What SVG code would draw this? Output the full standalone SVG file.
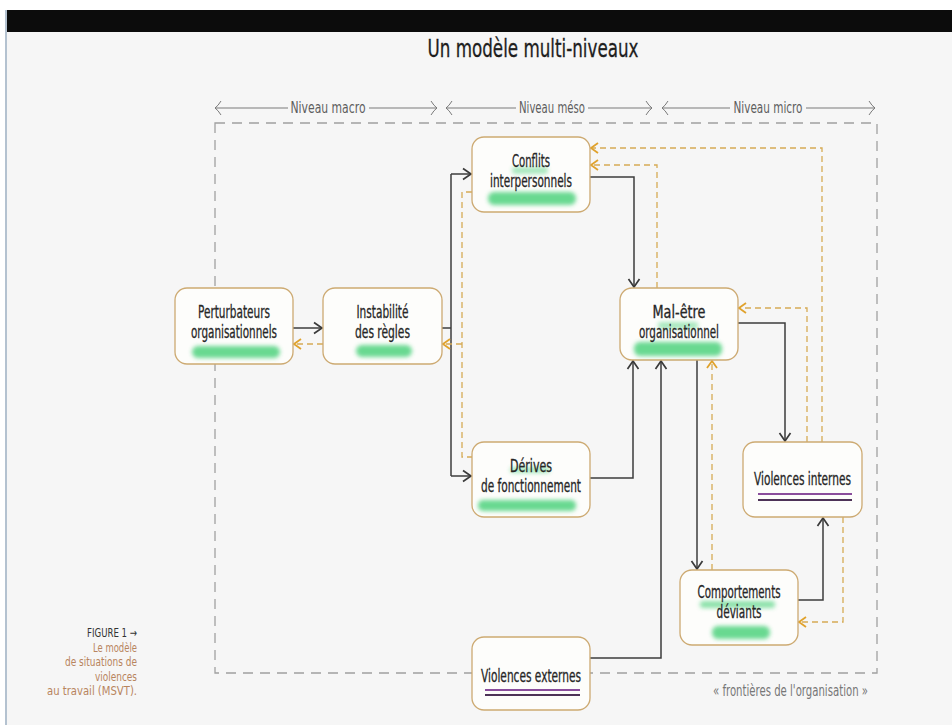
<svg xmlns="http://www.w3.org/2000/svg" width="952" height="725" viewBox="0 0 952 725">
<style>
.t{font-family:"DejaVu Sans Condensed","DejaVu Sans","Liberation Sans",sans-serif;font-stretch:condensed;font-size:17px;fill:#262626;stroke:#262626;stroke-width:0.3;text-anchor:middle}
.lv{font-family:"DejaVu Sans Condensed","DejaVu Sans","Liberation Sans",sans-serif;font-stretch:condensed;font-size:15px;fill:#5e5e5e;text-anchor:middle}
.cap{font-family:"DejaVu Sans Condensed","DejaVu Sans","Liberation Sans",sans-serif;font-stretch:condensed;font-size:12.5px;fill:#b8855e;text-anchor:end}
.box{fill:#fdfdfb;stroke:#cdaa72;stroke-width:1.3}
.sol{fill:none;stroke:#3c3c3c;stroke-width:1.5}
.dsh{fill:none;stroke:#d6ab55;stroke-width:1.3;stroke-dasharray:6 4}
.bnd{fill:none;stroke:#a0a0a0;stroke-width:1.3;stroke-dasharray:10 7}
.lvl{fill:none;stroke:#7a7a7a;stroke-width:1}
.hl{fill:#3fcf73;opacity:0.78;filter:url(#soft)}
.pu1{stroke:#8a4d9c;stroke-width:2}
.pu2{stroke:#4d3357;stroke-width:2}
</style>
<defs>
<filter id="soft" x="-20%" y="-100%" width="140%" height="300%"><feGaussianBlur stdDeviation="2"/></filter>
<marker id="ah" markerUnits="userSpaceOnUse" markerWidth="12" markerHeight="14" viewBox="0 0 12 14" refX="10" refY="7" orient="auto"><path d="M2,1.5 L10,7 L2,12.5" fill="none" stroke="#3a3a3a" stroke-width="1.7"/></marker>
<marker id="oh" markerUnits="userSpaceOnUse" markerWidth="12" markerHeight="14" viewBox="0 0 12 14" refX="10" refY="7" orient="auto"><path d="M3,2 L10,7 L3,12" fill="none" stroke="#e0a22c" stroke-width="1.8"/></marker>
<marker id="lh" markerUnits="userSpaceOnUse" markerWidth="10" markerHeight="16" viewBox="0 0 10 16" refX="9" refY="8" orient="auto"><path d="M3,1 Q6,6 9,8 Q6,10 3,15" fill="none" stroke="#7a7a7a" stroke-width="1"/></marker>
</defs>
<rect x="0" y="0" width="952" height="725" fill="#ffffff"/>
<rect x="6" y="32" width="946" height="693" fill="#f6f6f6"/>
<rect x="6" y="10" width="946" height="22" fill="#0c0c0c"/>
<line x1="6" y1="10" x2="6" y2="725" stroke="#b4c2d0" stroke-width="2"/>

<text x="533" y="57" class="t" style="font-size:25px;fill:#1e1e1e;stroke:#1e1e1e;stroke-width:0.3" textLength="211" lengthAdjust="spacingAndGlyphs">Un modèle multi-niveaux</text>

<g id="levels">
<path class="lvl" d="M288,108 H215" marker-end="url(#lh)"/>
<path class="lvl" d="M369,108 H437" marker-end="url(#lh)"/>
<text x="328" y="113" class="lv" textLength="75" lengthAdjust="spacingAndGlyphs">Niveau macro</text>
<path class="lvl" d="M516,108 H446" marker-end="url(#lh)"/>
<path class="lvl" d="M588,108 H652" marker-end="url(#lh)"/>
<text x="552" y="113" class="lv" textLength="66" lengthAdjust="spacingAndGlyphs">Niveau méso</text>
<path class="lvl" d="M730,108 H662" marker-end="url(#lh)"/>
<path class="lvl" d="M806,108 H875" marker-end="url(#lh)"/>
<text x="768" y="113" class="lv" textLength="69" lengthAdjust="spacingAndGlyphs">Niveau micro</text>
</g>

<rect id="boundary" class="bnd" x="215" y="123" width="662" height="550"/>

<g id="connectors">
<path class="sol" d="M293,328 H322" marker-end="url(#ah)"/>
<path class="sol" d="M442,328 H451"/>
<path class="sol" d="M451,174 V476"/>
<path class="sol" d="M451,174 H471" marker-end="url(#ah)"/>
<path class="sol" d="M451,476 H471" marker-end="url(#ah)"/>
<path class="sol" d="M590,177 H634 V287" marker-end="url(#ah)"/>
<path class="sol" d="M738,323 H785 V441" marker-end="url(#ah)"/>
<path class="sol" d="M697,360 V569" marker-end="url(#ah)"/>
<path class="sol" d="M590,478 H633 V361" marker-end="url(#ah)"/>
<path class="sol" d="M590,658 H661 V361" marker-end="url(#ah)"/>
<path class="sol" d="M798,600 H823 V518" marker-end="url(#ah)"/>

<path class="dsh" d="M323,344 H294" marker-end="url(#oh)"/>
<path class="dsh" d="M472,192 H462 V457 H472"/>
<path class="dsh" d="M462,344 H443" marker-end="url(#oh)"/>
<path class="dsh" d="M657,288 V165 H591" marker-end="url(#oh)"/>
<path class="dsh" d="M822,442 V148 H591" marker-end="url(#oh)"/>
<path class="dsh" d="M807,442 V308 H739" marker-end="url(#oh)"/>
<path class="dsh" d="M712,570 V361" marker-end="url(#oh)"/>
<path class="dsh" d="M843,517 V622 H799" marker-end="url(#oh)"/>
</g>

<g id="n-perturbateurs">
<rect class="box" x="175" y="288" width="118" height="76" rx="12"/>
<rect class="hl" x="192" y="346" width="88" height="12" rx="6"/>
<text x="234" y="318" class="t" textLength="72" lengthAdjust="spacingAndGlyphs">Perturbateurs</text>
<text x="234" y="338" class="t" textLength="86" lengthAdjust="spacingAndGlyphs">organisationnels</text>
</g>

<g id="n-instabilite">
<rect class="box" x="323" y="288" width="119" height="76" rx="12"/>
<rect class="hl" x="356" y="345" width="56" height="12" rx="6"/>
<text x="382.5" y="318" class="t" textLength="52" lengthAdjust="spacingAndGlyphs">Instabilité</text>
<text x="382.5" y="338" class="t" textLength="55" lengthAdjust="spacingAndGlyphs">des règles</text>
</g>

<g id="n-conflits">
<rect class="box" x="472" y="137" width="118" height="75" rx="12"/>
<rect class="hl" x="512" y="167" width="36" height="7" rx="3" style="opacity:0.45"/>
<rect class="hl" x="488" y="192" width="88" height="13" rx="6"/>
<text x="531" y="167" class="t" textLength="38" lengthAdjust="spacingAndGlyphs">Conflits</text>
<text x="531" y="187" class="t" textLength="82" lengthAdjust="spacingAndGlyphs">interpersonnels</text>
</g>

<g id="n-malaise">
<rect class="box" x="620" y="288" width="118" height="72" rx="12"/>
<rect class="hl" x="658" y="322" width="40" height="7" rx="3" style="opacity:0.45"/>
<rect class="hl" x="634" y="342" width="88" height="14" rx="6"/>
<text x="679" y="318" class="t" textLength="53" lengthAdjust="spacingAndGlyphs">Mal-être</text>
<text x="679" y="338" class="t" textLength="80" lengthAdjust="spacingAndGlyphs">organisationnel</text>
</g>

<g id="n-derives">
<rect class="box" x="472" y="442" width="118" height="75" rx="12"/>
<rect class="hl" x="510" y="467" width="40" height="6" rx="3" style="opacity:0.45"/>
<rect class="hl" x="478" y="500" width="98" height="11" rx="5"/>
<text x="531" y="472" class="t" textLength="42" lengthAdjust="spacingAndGlyphs">Dérives</text>
<text x="531" y="492" class="t" textLength="100" lengthAdjust="spacingAndGlyphs">de fonctionnement</text>
</g>

<g id="n-violences-internes">
<rect class="box" x="743" y="442" width="119" height="75" rx="12"/>
<text x="802.5" y="485" class="t" textLength="97" lengthAdjust="spacingAndGlyphs">Violences internes</text>
<line class="pu1" x1="758" y1="494" x2="852" y2="494"/>
<line class="pu2" x1="758" y1="500" x2="852" y2="500"/>
</g>

<g id="n-comportements">
<rect class="box" x="680" y="570" width="118" height="75" rx="12"/>
<rect class="hl" x="700" y="601" width="75" height="7" rx="3" style="opacity:0.6"/>
<rect class="hl" x="712" y="626" width="58" height="13" rx="6"/>
<text x="739" y="598" class="t" textLength="83" lengthAdjust="spacingAndGlyphs">Comportements</text>
<text x="739" y="618" class="t" textLength="45" lengthAdjust="spacingAndGlyphs">déviants</text>
</g>

<g id="n-violences-externes">
<rect class="box" x="472" y="637" width="118" height="73" rx="12"/>
<text x="531" y="682" class="t" textLength="100" lengthAdjust="spacingAndGlyphs">Violences externes</text>
<line class="pu1" x1="485" y1="690" x2="580" y2="690"/>
<line class="pu2" x1="485" y1="695" x2="580" y2="695"/>
</g>

<text x="868" y="696" class="lv" style="text-anchor:end;font-size:15px;fill:#777" textLength="155" lengthAdjust="spacingAndGlyphs">« frontières de l'organisation »</text>

<g id="caption">
<text x="137" y="637" class="cap" style="fill:#333" textLength="50" lengthAdjust="spacingAndGlyphs">FIGURE 1 →</text>
<text x="137" y="651.5" class="cap" textLength="44" lengthAdjust="spacingAndGlyphs">Le modèle</text>
<text x="137" y="666" class="cap" textLength="72" lengthAdjust="spacingAndGlyphs">de situations de</text>
<text x="137" y="680.5" class="cap" textLength="42" lengthAdjust="spacingAndGlyphs">violences</text>
<text x="137" y="695" class="cap" textLength="90" lengthAdjust="spacingAndGlyphs">au travail (MSVT).</text>
</g>
</svg>
